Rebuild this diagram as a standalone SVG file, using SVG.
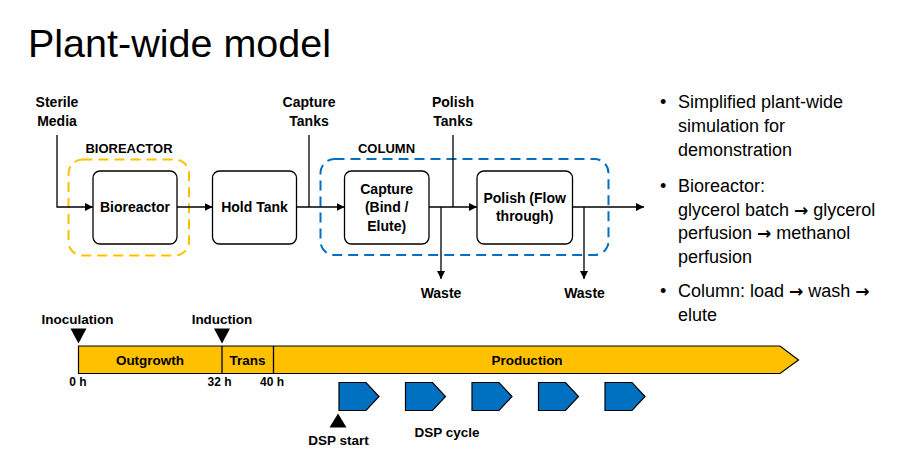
<svg xmlns="http://www.w3.org/2000/svg" width="905" height="458" viewBox="0 0 905 458">
<style>
.t{font-family:"Liberation Sans",Arial,sans-serif;fill:#000}
.b{font-weight:bold;font-size:14px;text-anchor:middle}
.s{font-weight:bold;font-size:13.5px;text-anchor:middle}
.bul{font-size:18px}
.ar{font-family:"DejaVu Sans",sans-serif;font-weight:bold;font-size:17px}
.box{fill:#fff;stroke:#000;stroke-width:1.3}
.ln{fill:none;stroke:#000;stroke-width:1.3}
.dash{fill:none;stroke-width:2;stroke-dasharray:10 6}
.bar{fill:#FFC000;stroke:#000;stroke-width:1.2}
.dsp{fill:#0070C0;stroke:#000;stroke-width:1.2}
</style>
<defs>
<marker id="ah" viewBox="0 0 10 10" refX="10" refY="5" markerWidth="8" markerHeight="8" markerUnits="userSpaceOnUse" orient="auto">
<path d="M0,0 L10,5 L0,10 z" fill="#000"/>
</marker>
</defs>
<rect width="905" height="458" fill="#fff"/>
<text class="t" x="28" y="57" font-size="39.5">Plant-wide model</text>

<g id="bioreactor-group">
<rect class="dash" x="68.5" y="159.5" width="120.5" height="96" rx="14" stroke="#FFC000"/>
<text class="t" x="129" y="152.5" font-weight="bold" font-size="13" text-anchor="middle">BIOREACTOR</text>
</g>
<g id="column-group">
<rect class="dash" x="320.5" y="159" width="288" height="96" rx="14" stroke="#0070C0"/>
<text class="t" x="386.5" y="152.5" font-weight="bold" font-size="13" text-anchor="middle">COLUMN</text>
</g>

<g id="sterile-media">
<text class="t b" x="57" y="106.5">Sterile</text>
<text class="t b" x="57" y="125.5">Media</text>
</g>
<g id="capture-tanks">
<text class="t b" x="309" y="106.5">Capture</text>
<text class="t b" x="309" y="125.5">Tanks</text>
</g>
<g id="polish-tanks">
<text class="t b" x="453" y="106.5">Polish</text>
<text class="t b" x="453" y="125.5">Tanks</text>
</g>
<g id="waste-1"><text class="t b" x="441" y="297.5">Waste</text></g>
<g id="waste-2"><text class="t b" x="584.5" y="297.5">Waste</text></g>

<g id="bioreactor">
<rect class="box" x="93" y="171" width="84" height="73" rx="7"/>
<text class="t b" x="135" y="212">Bioreactor</text>
</g>
<g id="hold-tank">
<rect class="box" x="212.5" y="171" width="84" height="73" rx="7"/>
<text class="t b" x="254.5" y="212">Hold Tank</text>
</g>
<g id="capture">
<rect class="box" x="344.5" y="171" width="84.5" height="73" rx="7"/>
<text class="t b" x="386.7" y="193.5">Capture</text>
<text class="t b" x="386.7" y="212">(Bind /</text>
<text class="t b" x="386.7" y="230.5">Elute)</text>
</g>
<g id="polish">
<rect class="box" x="477" y="171" width="95.5" height="73" rx="7"/>
<text class="t b" x="524.7" y="202.5">Polish (Flow</text>
<text class="t b" x="524.7" y="221">through)</text>
</g>

<g id="connectors">
<path class="ln" d="M57,135 V207 H93" marker-end="url(#ah)"/>
<path class="ln" d="M177,207 H212.5" marker-end="url(#ah)"/>
<path class="ln" d="M296.5,207 H344.5" marker-end="url(#ah)"/>
<path class="ln" d="M309,135 V207"/>
<path class="ln" d="M429,207 H477" marker-end="url(#ah)"/>
<path class="ln" d="M453,135 V207"/>
<path class="ln" d="M441,207 V279" marker-end="url(#ah)"/>
<path class="ln" d="M572.5,207 H644" marker-end="url(#ah)"/>
<path class="ln" d="M584,207 V279" marker-end="url(#ah)"/>
</g>

<g id="bullets">
<text class="t bul" x="660" y="108">•</text>
<text class="t bul" x="678" y="108">Simplified plant-wide</text>
<text class="t bul" x="678" y="132">simulation for</text>
<text class="t bul" x="678" y="156">demonstration</text>
<text class="t bul" x="660" y="192">•</text>
<text class="t bul" x="678" y="192">Bioreactor:</text>
<text class="t bul" x="678" y="215.5">glycerol batch <tspan class="ar">→</tspan> glycerol</text>
<text class="t bul" x="678" y="239">perfusion <tspan class="ar">→</tspan> methanol</text>
<text class="t bul" x="678" y="262.5">perfusion</text>
<text class="t bul" x="660" y="297">•</text>
<text class="t bul" x="678" y="297">Column: load <tspan class="ar">→</tspan> wash <tspan class="ar">→</tspan></text>
<text class="t bul" x="678" y="321">elute</text>
</g>

<g id="timeline">
<path class="bar" d="M78.5,346 H780 L798.5,360 L780,373.5 H78.5 Z"/>
<path class="ln" d="M222,346 V373.5 M273.5,346 V373.5" stroke-width="1.2"/>
<text class="t s" x="150" y="364.5">Outgrowth</text>
<text class="t s" x="247.5" y="364.5">Trans</text>
<text class="t s" x="527" y="364.5">Production</text>
<text class="t" x="78" y="386" font-weight="bold" font-size="12" text-anchor="middle">0 h</text>
<text class="t" x="219.5" y="386" font-weight="bold" font-size="12" text-anchor="middle">32 h</text>
<text class="t" x="272" y="386" font-weight="bold" font-size="12" text-anchor="middle">40 h</text>
</g>
<g id="inoculation">
<text class="t s" x="77.5" y="323.5">Inoculation</text>
<path d="M70.5,328.5 H86.5 L78.5,343.5 Z" fill="#000"/>
</g>
<g id="induction">
<text class="t s" x="222" y="323.5">Induction</text>
<path d="M214,328.5 H230 L222,343.5 Z" fill="#000"/>
</g>
<g id="dsp-cycles">
<path class="dsp" d="M339,382.5 H366 L379,396.5 L366,410.5 H339 Z"/>
<path class="dsp" d="M405.5,382.5 H432.5 L445.5,396.5 L432.5,410.5 H405.5 Z"/>
<path class="dsp" d="M472,382.5 H499 L512,396.5 L499,410.5 H472 Z"/>
<path class="dsp" d="M538.5,382.5 H565.5 L578.5,396.5 L565.5,410.5 H538.5 Z"/>
<path class="dsp" d="M605,382.5 H632 L645,396.5 L632,410.5 H605 Z"/>
<text class="t s" x="447" y="437">DSP cycle</text>
</g>
<g id="dsp-start">
<path d="M329.5,427.5 H346.5 L338,413.5 Z" fill="#000"/>
<text class="t s" x="338.5" y="445">DSP start</text>
</g>
</svg>
